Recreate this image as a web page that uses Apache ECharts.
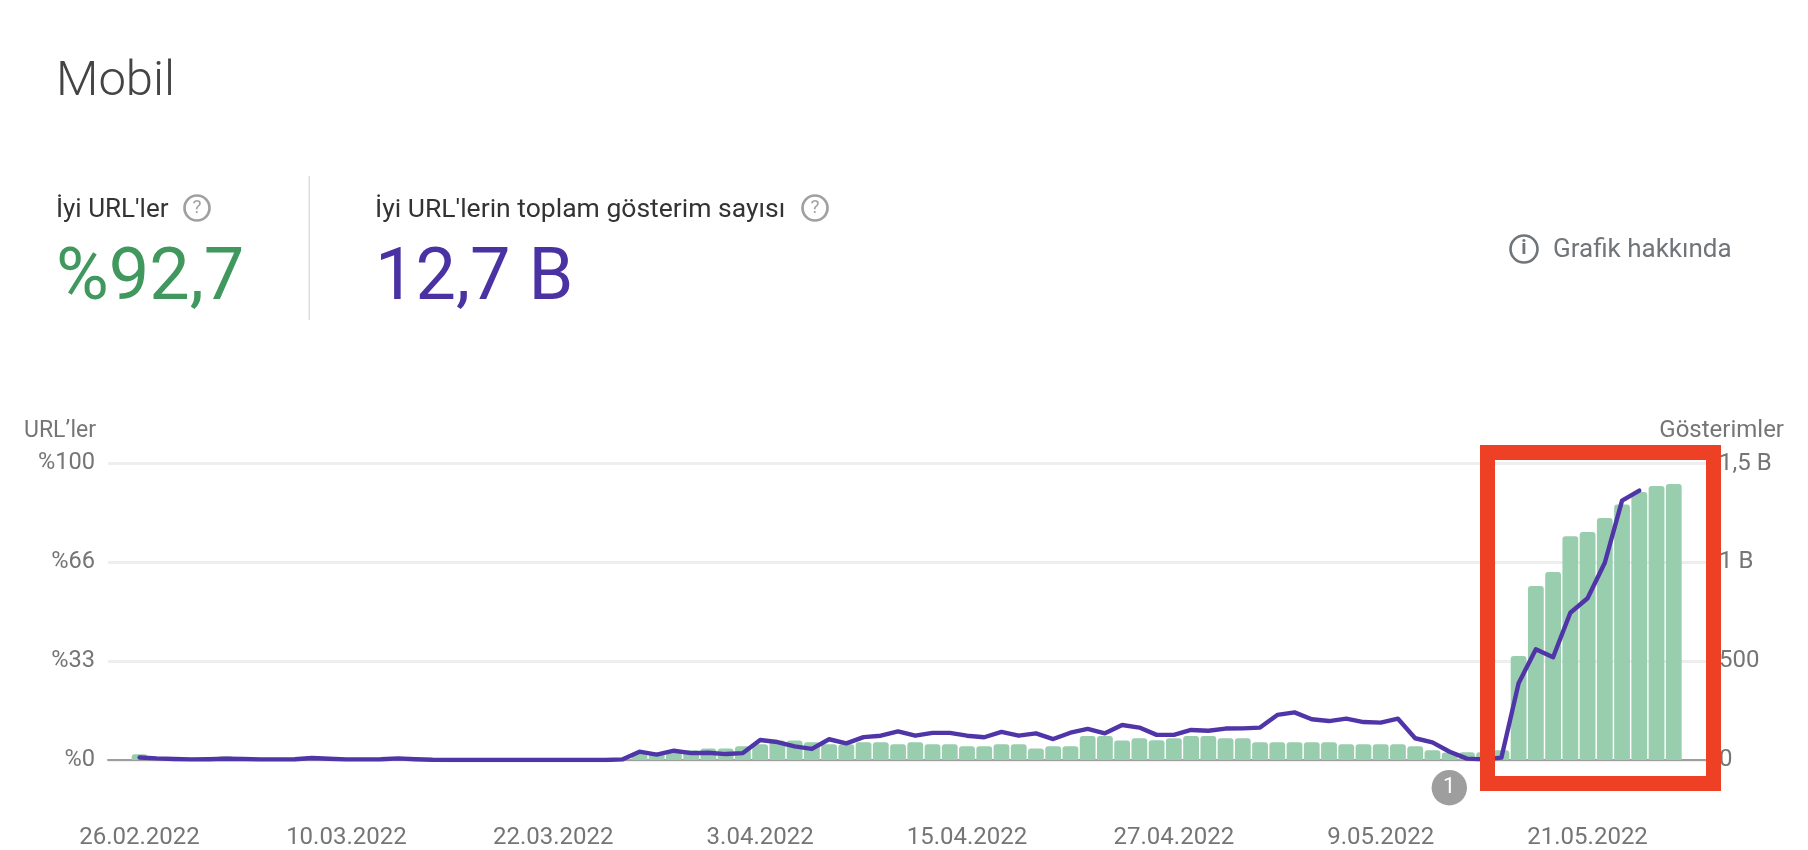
<!DOCTYPE html>
<html><head><meta charset="utf-8">
<style>html,body{margin:0;padding:0;background:#fff}#c{width:1808px;height:850px}</style>
<script src="https://cdn.jsdelivr.net/npm/echarts@6/dist/echarts.min.js"></script>
</head><body><div id="c"></div>
<script>
const dates = [
"26.02.2022","27.02.2022","28.02.2022","1.03.2022","2.03.2022","3.03.2022","4.03.2022","5.03.2022","6.03.2022","7.03.2022","8.03.2022","9.03.2022",
"10.03.2022","11.03.2022","12.03.2022","13.03.2022","14.03.2022","15.03.2022","16.03.2022","17.03.2022","18.03.2022","19.03.2022","20.03.2022","21.03.2022",
"22.03.2022","23.03.2022","24.03.2022","25.03.2022","26.03.2022","27.03.2022","28.03.2022","29.03.2022","30.03.2022","31.03.2022","1.04.2022","2.04.2022",
"3.04.2022","4.04.2022","5.04.2022","6.04.2022","7.04.2022","8.04.2022","9.04.2022","10.04.2022","11.04.2022","12.04.2022","13.04.2022","14.04.2022",
"15.04.2022","16.04.2022","17.04.2022","18.04.2022","19.04.2022","20.04.2022","21.04.2022","22.04.2022","23.04.2022","24.04.2022","25.04.2022","26.04.2022",
"27.04.2022","28.04.2022","29.04.2022","30.04.2022","1.05.2022","2.05.2022","3.05.2022","4.05.2022","5.05.2022","6.05.2022","7.05.2022","8.05.2022",
"9.05.2022","10.05.2022","11.05.2022","12.05.2022","13.05.2022","14.05.2022","15.05.2022","16.05.2022","17.05.2022","18.05.2022","19.05.2022","20.05.2022",
"21.05.2022","22.05.2022","23.05.2022","24.05.2022","25.05.2022","26.05.2022"];
const xTickLabels = ["26.02.2022","10.03.2022","22.03.2022","3.04.2022","15.04.2022","27.04.2022","9.05.2022","21.05.2022"];
const leftTickLabels = ["%0","%33","%66","%100"];
const rightTickLabels = ["0","500","1 B","1,5 B"];
// share of good URLs, percent
const goodUrls = [
1.9,0.8,0.3,0.2,0.2,1.3,0.3,0,0,0,0,0,
0,0,0,0,0,0,0,0,0,0,0,0,
0,0,0,0,0.5,2.2,2.5,2.5,3.3,3.9,3.9,4.6,
5.3,6.6,6.6,6.0,5.3,5.3,6.0,6.0,5.3,6.0,5.3,5.3,
4.6,4.6,5.3,5.3,3.9,4.6,4.6,8.1,8.1,6.6,7.3,6.7,
7.3,8.1,8.1,7.3,7.3,6.0,6.0,6.0,6.0,6.0,5.3,5.3,
5.3,5.3,4.6,3.3,2.5,2.6,2.6,3.3,35.1,58.7,63.4,75.5,
76.9,81.6,86.2,90.4,92.4,93.1];
// impressions, millions
const impressions = [
13,8,5,3,4,6,5,3,3,4,10,6,
3,3,4,8,4,1,0,0,0,0,0,0,
0,0,0,0,3,42,27,47,35,37,30,35,
101,91,69,56,105,84,116,123,145,123,137,137,
123,115,142,123,135,106,138,157,135,177,164,127,
127,152,148,159,160,164,228,241,206,197,209,192,
189,209,110,89,42,7,3,12,388,560,520,745,
818,998,1312,1363];

const GREEN="#98cdae", PURPLE="#5035a8", LABEL="#757575";
const font=(s,w)=>`${w||400} ${s}px Roboto`;
const txt=(text,x,y,size,fill,align,weight)=>({type:'text',z:100,style:{text,x,y,font:font(size,weight),fill,align:align||'left',verticalAlign:'middle'}});
const ring=(cx,cy,r,stroke,lw)=>({type:'circle',z:100,shape:{cx,cy,r},style:{fill:'none',stroke,lineWidth:lw}});

const chart=echarts.init(document.getElementById('c'),null,{renderer:'canvas'});
chart.setOption({
  animation:false,
  backgroundColor:'#fff',
  grid:{left:108,right:102,top:463.5,height:296.5,containLabel:false},
  xAxis:{type:'value',min:-1.83,max:90.87,splitLine:{show:false},
    axisLine:{show:true,onZero:true,lineStyle:{color:'#9e9e9e',width:2}},axisTick:{show:false},
    axisLabel:{customValues:xTickLabels.map(l=>dates.indexOf(l)),formatter:v=>dates[v],color:LABEL,fontFamily:'Roboto',fontSize:24,margin:66,hideOverlap:false}},
  yAxis:[
    {type:'value',min:0,max:100,interval:100/3,
      axisLine:{show:false},axisTick:{show:false},
      splitLine:{lineStyle:{color:'#eeeeee',width:3}},
      axisLabel:{formatter:v=>leftTickLabels[Math.round(v/(100/3))],color:LABEL,fontFamily:'Roboto',fontSize:23.6,margin:13,padding:[7,0,0,0]}},
    {type:'value',min:0,max:1500,interval:500,position:'right',
      axisLine:{show:false},axisTick:{show:false},splitLine:{show:false},
      axisLabel:{formatter:v=>rightTickLabels[Math.round(v/500)],color:LABEL,fontFamily:'Roboto',fontSize:24,margin:13,padding:[7,0,0,0]}}
  ],
  series:[
    {type:'bar',name:"İyi URL'ler",yAxisIndex:0,barWidth:15.8,data:goodUrls.map((v,i)=>[i,v]),
      itemStyle:{color:GREEN,borderRadius:[3,3,0,0]}},
    {type:'line',name:"Gösterimler",yAxisIndex:1,data:impressions.map((v,i)=>[i,v]),symbol:'none',smooth:false,z:5,
      lineStyle:{color:PURPLE,width:4.4,join:'round',cap:'round'}}
  ],
  graphic:{elements:[
    txt("Mobil",56,83,49,'#444444','left',300),
    txt("İyi URL'ler",56,210,26,'#333333'),
    ring(197,208,12.5,'#a0a0a0',2.7),txt("?",197,208,19,'#a0a0a0','center'),
    txt("%92,7",56,281,72,'#41985e'),
    {type:'rect',z:100,shape:{x:308.5,y:176,width:1.5,height:144},style:{fill:'#dddddd'}},
    txt("İyi URL'lerin toplam gösterim sayısı",375,210,26.5,'#333333'),
    ring(815,208,12.5,'#a0a0a0',2.7),txt("?",815,208,19,'#a0a0a0','center'),
    txt("12,7 B",375,281,72,'#4a32a3'),
    ring(1524,249,13.5,'#70757a',2.6),txt("i",1524,249,20,'#70757a','center',700),
    txt("Grafik hakkında",1553,250,26,'#70757a'),
    txt("URL’ler",96,431,23,LABEL,'right'),
    txt("Gösterimler",1784,431,24,LABEL,'right'),
    {type:'circle',z:100,shape:{cx:1449.3,cy:787.7,r:17.7},style:{fill:'#9e9e9e'}},
    txt("1",1449.3,787.7,22,'#ffffff','center'),
    {type:'rect',z:110,shape:{x:1487.5,y:452.5,width:226,height:331},style:{fill:'none',stroke:'#ee4025',lineWidth:15}}
  ]}
});
</script></body></html>
